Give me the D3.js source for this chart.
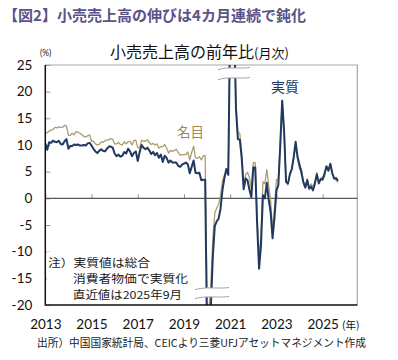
<!DOCTYPE html>
<html>
<head>
<meta charset="utf-8">
<script src="https://cdn.jsdelivr.net/npm/d3@7"></script>
<style>
html,body{margin:0;padding:0;background:#fff;}
svg{display:block;}
</style>
</head>
<body>
<svg id="chart" width="398" height="360"></svg>
<script>
// ---- data (monthly, Jan 2013 - Sep 2025; Jan & Feb share the Jan-Feb cumulative figure) ----
const startYear = 2013;
const nominal = [
  12.3,12.3,12.6,12.8,12.9,13.3,13.2,13.4,13.3,13.3,13.7,13.6,
  11.8,11.8,12.2,11.9,12.5,12.4,12.2,11.9,11.6,11.5,11.7,11.9,
  10.7,10.7,10.2,10.0,10.1,10.6,10.5,10.8,10.9,11.0,11.2,11.1,
  10.2,10.2,10.5,10.1,10.0,10.6,10.2,10.6,10.7,10.0,10.8,10.9,
  9.5,9.5,10.9,10.7,10.7,11.0,10.4,10.1,10.3,10.0,10.2,9.4,
  9.7,9.7,10.1,9.4,8.5,9.0,8.8,9.0,9.2,8.6,8.1,8.2,
  8.2,8.2,8.7,7.2,8.6,9.8,7.6,7.5,7.8,7.2,8.0,8.0,
  -20.5,-20.5,-15.8,-7.5,-2.8,-1.8,-1.1,0.5,3.3,4.3,5.0,4.6,
  33.8,33.8,34.2,17.7,12.4,12.1,8.5,2.5,4.4,4.9,3.9,1.7,
  6.7,6.7,-3.5,-11.1,-6.7,3.1,2.7,5.4,2.5,-0.5,-5.9,-1.8,
  3.5,3.5,10.6,18.4,12.7,3.1,2.5,4.6,5.5,7.6,10.1,7.4,
  5.5,5.5,3.1,2.3,3.7,2.0,2.7,2.1,3.2,4.8,3.0,3.7,
  4.0,4.0,5.9,5.1,6.4,4.8,3.7,3.4,3.0
];
const real = [
  10.3,9.1,10.5,10.4,10.8,10.6,10.5,10.8,10.2,10.1,10.7,11.1,
  9.3,9.8,9.8,10.1,10.0,10.1,9.9,9.9,10.0,9.9,10.3,10.4,
  9.9,9.3,8.8,8.5,8.9,9.2,8.9,8.8,9.3,9.7,9.7,9.5,
  8.4,7.9,8.2,7.8,8.0,8.7,8.4,9.3,8.8,7.9,8.5,8.8,
  7.0,8.7,10.0,9.5,9.2,9.5,9.0,8.3,8.7,8.1,8.5,7.6,
  8.2,6.8,8.0,7.6,6.7,7.1,6.7,6.7,6.7,6.1,5.9,6.3,
  6.5,6.7,6.4,4.7,5.9,7.1,4.8,4.7,4.8,3.4,3.5,3.5,
  -25.9,-25.7,-20.1,-10.8,-5.2,-4.3,-3.8,-1.9,1.6,3.8,5.5,4.4,
  34.1,34.0,33.8,16.8,11.1,11.0,7.5,1.7,3.7,3.4,1.6,0.2,
  5.8,5.8,-5.0,-13.2,-8.8,0.6,0.0,2.9,-0.3,-2.6,-7.5,-3.6,
  1.4,2.5,9.9,18.3,12.5,3.1,2.8,4.5,5.5,7.8,10.6,7.7,
  6.3,4.8,3.0,2.0,3.4,1.8,2.2,1.5,2.8,4.5,2.8,3.6,
  3.5,4.7,6.0,5.2,6.5,4.7,3.7,3.8,3.3
];
const yTicks = [25,20,15,10,5,0,-5,-10,-15,-20];
const xTickYears = [2013,2015,2017,2019,2021,2023,2025];
const xTickLabels = ["2013","2015","2017","2019","2021","2023","2025"];
const noteLines = ["注）実質値は総合", "消費者物価で実質化", "直近値は2025年9月"];

// ---- layout ----
const svg = d3.select("#chart");
const L = 45.3, R = 357.3, T = 65, B = 305;
const x = d3.scaleLinear().domain([2013, 2026.5]).range([L, R]);
const y = d3.scaleLinear().domain([-20, 25]).range([B, T]);
const numFont = "Lato, 'Open Sans', sans-serif";
const jpFont = "'Noto Sans CJK JP', sans-serif";
const navy = "#21395f", tan = "#ab9d70";

// title
svg.append("text").attr("x", 3).attr("y", 21)
  .attr("font-family", jpFont).attr("font-weight", "bold").attr("font-size", 15)
  .attr("fill", "#5a5387").attr("textLength", 303).attr("lengthAdjust", "spacingAndGlyphs")
  .text("【図2】小売売上高の伸びは4カ月連続で鈍化");

// chart title
const ct = svg.append("text").attr("x", 110).attr("y", 58)
  .attr("font-family", jpFont).attr("font-size", 16).attr("fill", "#111");
ct.append("tspan").text("小売売上高の前年比");
ct.append("tspan").attr("font-size", 13).text("(月次)");

svg.append("text").attr("x", 40).attr("y", 56).attr("font-family", numFont)
  .attr("font-size", 8.5).attr("fill", "#222").text("(%)");

// frame: top & right gray
svg.append("path").attr("d", `M${L},${T}H${R}V${B}`).attr("fill", "none")
  .attr("stroke", "#a6a6a6").attr("stroke-width", 1.2);

// y axis
const yAxis = d3.axisLeft(y).tickValues(yTicks).tickSize(-5).tickPadding(13)
  .tickFormat(d => d3.format("d")(d).replace("−", "-"));
const gy = svg.append("g").attr("transform", `translate(${L},0)`).call(yAxis);
gy.select(".domain").remove();
gy.selectAll(".tick line").attr("stroke", "#9a9a9a").attr("stroke-width", 1);
gy.selectAll(".tick text").attr("font-family", numFont).attr("font-size", 13.5).attr("fill", "#111");

// zero line with year ticks
const xTickAxis = d3.axisBottom(x).tickValues(xTickYears).tickSize(-4).tickFormat("");
const gz = svg.append("g").attr("transform", `translate(0,${y(0)})`).call(xTickAxis);
gz.select(".domain").remove();
gz.selectAll(".tick line").attr("stroke", "#8a8a8a");
svg.append("line").attr("x1", L).attr("x2", R).attr("y1", y(0)).attr("y2", y(0))
  .attr("stroke", "#595959").attr("stroke-width", 1.3);

// x labels
const xLabelAxis = d3.axisBottom(x).tickValues(xTickYears).tickSize(0).tickPadding(14)
  .tickFormat((d, i) => xTickLabels[i]);
const gx = svg.append("g").attr("transform", `translate(0,${B})`).call(xLabelAxis);
gx.select(".domain").remove();
gx.selectAll(".tick text").attr("font-family", numFont).attr("font-size", 13.5).attr("fill", "#111");
svg.append("text").attr("x", 342).attr("y", 329).attr("font-family", jpFont)
  .attr("font-size", 10.5).attr("fill", "#111").text("(年)");

// clip
svg.append("clipPath").attr("id", "plotclip").append("rect")
  .attr("x", L).attr("y", T).attr("width", R - L).attr("height", B - T);

const line = d3.line().x((d, i) => x(startYear + i / 12)).y(d => y(d));
const gl = svg.append("g").attr("clip-path", "url(#plotclip)");
gl.append("path").datum(nominal).attr("d", line).attr("fill", "none")
  .attr("stroke", tan).attr("stroke-width", 1.3).attr("stroke-linejoin", "round");
gl.append("path").datum(real).attr("d", line).attr("fill", "none")
  .attr("stroke", navy).attr("stroke-width", 2).attr("stroke-linejoin", "round");

// axis lines (left, bottom) black
svg.append("path").attr("d", `M${L},${T}V${B}H${R}`).attr("fill", "none")
  .attr("stroke", "#111").attr("stroke-width", 1.5);

// breaks
function wave(x0, x1, yy) {
  const w = x1 - x0;
  return `M${x0},${yy + 1.2} C${x0 + w * 0.3},${yy - 2.2} ${x0 + w * 0.7},${yy + 0.6} ${x1},${yy - 1}`;
}
function waveRev(x0, x1, yy) {
  const w = x1 - x0;
  return `L${x1},${yy - 1} C${x0 + w * 0.7},${yy + 0.6} ${x0 + w * 0.3},${yy - 2.2} ${x0},${yy + 1.2}`;
}
function drawBreak(x0, x1, y0, y1) {
  svg.append("path").attr("d", wave(x0, x1, y0) + waveRev(x0, x1, y1) + "Z")
    .attr("fill", "#fff").attr("stroke", "none");
  svg.append("path").attr("d", wave(x0, x1, y0)).attr("fill", "none").attr("stroke", "#a6a6a6").attr("stroke-width", 1);
  svg.append("path").attr("d", wave(x0, x1, y1)).attr("fill", "none").attr("stroke", "#a6a6a6").attr("stroke-width", 1);
}
drawBreak(218, 250, 68.5, 78.5);
drawBreak(195, 229, 288.5, 297.5);

// series labels
svg.append("text").attr("x", 177).attr("y", 137).attr("font-family", jpFont)
  .attr("font-size", 13.5).attr("fill", "#9c8a55").text("名目");
svg.append("text").attr("x", 271).attr("y", 92).attr("font-family", jpFont)
  .attr("font-size", 14).attr("fill", navy).text("実質");

// note
svg.append("rect").attr("x", 47).attr("y", 252).attr("width", 143).attr("height", 50).attr("fill", "#fff");
const note = svg.append("g").attr("font-family", jpFont).attr("font-size", 11).attr("fill", "#1a1a1a")
  .attr("lengthAdjust", "spacingAndGlyphs");
const noteX = [48, 73, 73], noteY = [266.5, 282.5, 298.5], noteW = [102, 115, 109];
noteLines.forEach((t, i) => {
  note.append("text").attr("x", noteX[i]).attr("y", noteY[i])
    .attr("textLength", noteW[i]).attr("lengthAdjust", "spacingAndGlyphs").text(t);
});

// source
svg.append("text").attr("x", 37).attr("y", 347).attr("font-family", jpFont)
  .attr("font-size", 11).attr("fill", "#222").attr("textLength", 329).attr("lengthAdjust", "spacingAndGlyphs")
  .text("出所）中国国家統計局、CEICより三菱UFJアセットマネジメント作成");
</script>
</body>
</html>
